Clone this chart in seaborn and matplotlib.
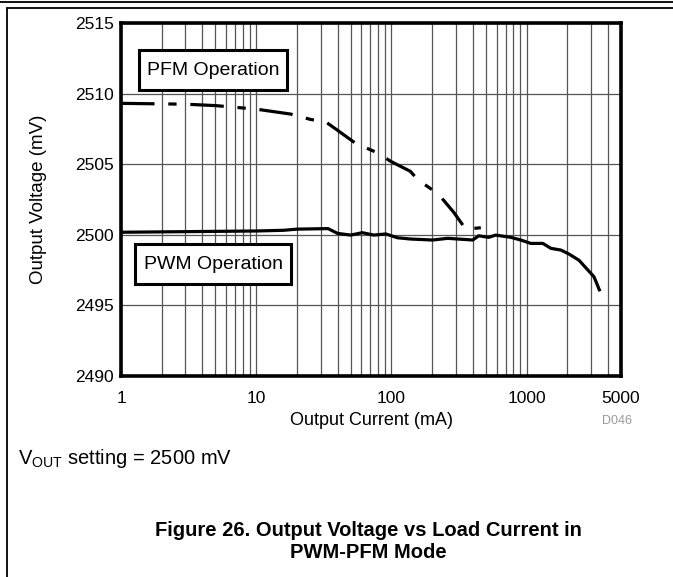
import numpy as np
import pandas as pd
import matplotlib
matplotlib.use("Agg")
import matplotlib.pyplot as plt
from matplotlib.patches import Rectangle
from matplotlib.lines import Line2D
from matplotlib.ticker import FixedLocator, NullFormatter, FixedFormatter
import seaborn as sns

# ---- data ----
pwm_current = [1, 10, 16, 20, 34, 40, 50, 61, 74, 91, 111, 139, 202, 261, 400, 443, 525,
               592, 765, 907, 1076, 1321, 1515, 1796, 2059, 2443, 2847, 3155, 3493]
pwm_voltage = [2500.18, 2500.27, 2500.32, 2500.40, 2500.44, 2500.10, 2499.98, 2500.15, 2499.98,
               2500.06, 2499.79, 2499.70, 2499.63, 2499.75, 2499.63, 2499.93, 2499.82,
               2499.98, 2499.82, 2499.63, 2499.39, 2499.39, 2499.04, 2498.92, 2498.64,
               2498.20, 2497.50, 2497.03, 2496.00]

pfm_current = [1, 3, 5, 10, 18, 25, 33, 40, 54, 79, 99, 138, 158, 202, 236, 289, 355, 459]
pfm_voltage = [2509.31, 2509.25, 2509.15, 2508.90, 2508.55, 2508.18, 2507.97, 2507.40, 2506.50,
               2505.80, 2505.20, 2504.50, 2503.88, 2503.17, 2502.60, 2501.60, 2500.40, 2500.50]

x_ticks = [1, 10, 100, 1000, 5000]
x_tick_labels = ["1", "10", "100", "1000", "5000"]
y_ticks = [2490, 2495, 2500, 2505, 2510, 2515]
x_label = "Output Current (mA)"
y_label = "Output Voltage (mV)"

sns.set_style("white")
plt.rcParams["font.family"] = ["Liberation Sans", "DejaVu Sans"]
plt.rcParams["mathtext.fontset"] = "custom"
plt.rcParams["mathtext.rm"] = "Liberation Sans"
for k in ["text.color", "axes.labelcolor", "xtick.color", "ytick.color"]:
    plt.rcParams[k] = "black"

W, H = 673, 577
fig = plt.figure(figsize=(W / 100, H / 100), dpi=100)
L, R, T, B = 121, 621, 23, 376
ax = fig.add_axes([L / W, 1 - B / H, (R - L) / W, (B - T) / H])

pwm_df = pd.DataFrame({"current": pwm_current, "voltage": pwm_voltage})
pfm_df = pd.DataFrame({"current": pfm_current, "voltage": pfm_voltage})

sns.lineplot(data=pwm_df, x="current", y="voltage", ax=ax, color="black", lw=2.3,
             estimator=None, sort=False, zorder=3)
sns.lineplot(data=pfm_df, x="current", y="voltage", ax=ax, color="black", lw=2.3,
             estimator=None, sort=False, zorder=3)
ax.lines[1].set_dashes([10.5, 4.3, 2.6, 4.3])
for ln in ax.lines:
    ln.set_solid_capstyle("butt")
    ln.set_dash_capstyle("butt")

ax.set_xscale("log")
ax.set_xlim(1, 5000)
ax.set_ylim(2490, 2515)

minor = []
for d in [1, 10, 100, 1000]:
    for m in range(2, 10):
        v = m * d
        if v < 5000:
            minor.append(v)
ax.xaxis.set_major_locator(FixedLocator(x_ticks))
ax.xaxis.set_major_formatter(FixedFormatter(x_tick_labels))
ax.xaxis.set_minor_locator(FixedLocator(minor))
ax.xaxis.set_minor_formatter(NullFormatter())
ax.set_yticks(y_ticks)
ax.set_yticklabels([str(v) for v in y_ticks])

ax.grid(True, which="both", axis="x", color="#555555", lw=0.9)
ax.grid(True, which="major", axis="y", color="#555555", lw=0.9)
ax.tick_params(axis="both", which="both", length=0, labelsize=12.5, colors="black")
ax.tick_params(axis="y", pad=5)
ax.tick_params(axis="x", pad=11)

for s in ax.spines.values():
    s.set_visible(True)
    s.set_color("black")
    s.set_linewidth(2.6)

ax.set_xlabel(x_label, fontsize=13, labelpad=4)
ax.set_ylabel(y_label, fontsize=13.5, labelpad=20)

# annotation boxes
def box(x0, y0, x1, y1, label):
    fx0, fx1 = (x0 - L) / (R - L), (x1 - L) / (R - L)
    fy0, fy1 = (B - y1) / (B - T), (B - y0) / (B - T)
    ax.add_patch(Rectangle((fx0, fy0), fx1 - fx0, fy1 - fy0, transform=ax.transAxes,
                           facecolor="white", edgecolor="black", lw=2.2, zorder=4))
    ax.text((fx0 + fx1) / 2, (fy0 + fy1) / 2, label, transform=ax.transAxes,
            ha="center", va="center", fontsize=14, zorder=5)

box(139, 50, 287, 90, "PFM Operation")
box(135, 244, 291, 284, "PWM Operation")

# figure decorations
fig.add_artist(Line2D([0, 1], [1 - 1.5 / H, 1 - 1.5 / H], transform=fig.transFigure, color="black", lw=1.3))
fig.add_artist(Line2D([7 / W, 1], [1 - 8 / H, 1 - 8 / H], transform=fig.transFigure, color="black", lw=1.3))
fig.add_artist(Line2D([7 / W, 7 / W], [0, 1 - 8 / H], transform=fig.transFigure, color="black", lw=1.3))

fig.text(632 / W, 1 - 421 / H, "D046", ha="right", va="center", fontsize=9, color="#999999")
fig.text(18 / W, 1 - 459 / H, r"V$_{\mathregular{OUT}}$ setting = 2500 mV", ha="left", va="center", fontsize=14.5)
fig.text(368 / W, 1 - 530 / H, "Figure 26. Output Voltage vs Load Current in", ha="center", va="center",
         fontsize=14.5, fontweight="bold")
fig.text(368 / W, 1 - 553 / H, "PWM-PFM Mode", ha="center", va="center", fontsize=14.5, fontweight="bold")

fig.savefig("out.png", dpi=100)
